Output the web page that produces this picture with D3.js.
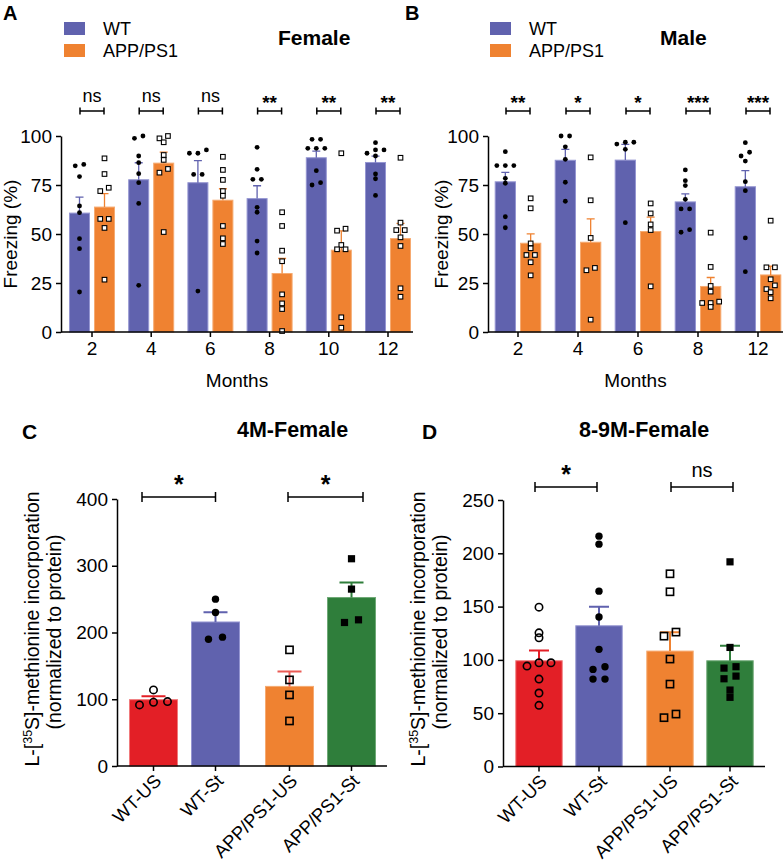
<!DOCTYPE html>
<html><head><meta charset="utf-8">
<script src="https://cdn.jsdelivr.net/npm/d3@7"></script>
<style>
body{margin:0;background:#fff}
svg{display:block}
</style>
</head><body>
<svg id="c" width="783" height="863"></svg>
<script>
// ---------------- DATA ----------------
const genotypes = ["WT", "APP/PS1"];
const monthsFemale = ["2", "4", "6", "8", "10", "12"];
const monthsMale = ["2", "4", "6", "8", "12"];
const freezeTicks = [0, 25, 50, 75, 100];

// Panel A: female freezing (%), individual animals per month
const femaleWT = [
  [84.8, 85.5, 79.3, 64.3, 60.9, 47.6, 42.5, 20.4],
  [98.8, 100, 89.8, 86.4, 80.8, 76.2, 65.6, 23.8],
  [91.2, 91.2, 92.9, 80.4, 80.4, 20.9],
  [94.2, 83.0, 77.9, 77.9, 63.6, 61.1, 46.4, 40.3],
  [98.3, 98.3, 93.7, 93.7, 93.7, 82.3, 76.2, 75.0],
  [96.6, 92.9, 92.9, 91.2, 89.8, 80.6, 78.2, 69.7]
];
const femaleAPP = [
  [88.6, 80.6, 73.6, 71.9, 57.7, 57.7, 53.1, 26.7],
  [98.8, 100, 96.8, 90.3, 87.8, 83.2, 81.3, 51.0],
  [89.4, 82.7, 77.6, 71.9, 69.5, 54.1, 47.8, 44.9],
  [61.1, 54.1, 41.5, 36.1, 19.2, 14.6, 11.7, 0.5],
  [91.2, 52.7, 51.7, 44.4, 42.2, 42.2, 7.5, 2.2],
  [88.9, 55.8, 52.0, 52.0, 48.3, 43.9, 22.3, 18.0]
];
const femaleSig = ["ns", "ns", "ns", "**", "**", "**"];

// Panel B: male freezing (%)
const maleWT = [
  [92.0, 84.9, 84.9, 84.9, 78.4, 75.9, 58.8, 53.2],
  [100, 100, 94.5, 88.1, 76.4, 66.7],
  [96.8, 96.8, 95.9, 93.2, 55.8],
  [82.7, 77.2, 74.7, 67.7, 62.8, 62.8, 52.2, 50.9],
  [96.6, 91.7, 89.8, 87.2, 76.7, 72.1, 48.0, 30.8]
];
const maleAPP = [
  [68.2, 63.1, 45.2, 42.7, 39.3, 39.3, 35.6, 28.9],
  [89.1, 67.2, 48.0, 32.7, 31.5, 6.3],
  [65.6, 60.5, 54.9, 52.0, 23.3],
  [50.7, 33.2, 23.5, 20.6, 15.5, 14.8, 14.8, 12.8],
  [56.8, 33.0, 33.0, 26.9, 23.8, 21.9, 20.3, 17.2]
];
const maleSig = ["**", "*", "*", "***", "***"];

// Panels C, D: L-[35S]-methionine incorporation (normalized to protein)
const groupsCD = ["WT-US", "WT-St", "APP/PS1-US", "APP/PS1-St"];
const incorp4M = [
  [114, 91.5, 96.5, 95.5],
  [250, 230, 190, 193],
  [174, 129, 106.5, 67.5],
  [310.5, 265, 215, 219]
];
const ticks4M = [0, 100, 200, 300, 400];
const sig4M = ["*", "*"];

const incorp89M = [
  [149.5, 125.4, 120.8, 97.3, 97.3, 94.2, 82.0, 68.9, 57.4],
  [216.1, 208.6, 164.5, 140.2, 109.9, 93.6, 91.1, 82.0, 82.0],
  [180.8, 163.9, 126.1, 122.3, 100.8, 77.3, 49.2, 45.8],
  [192.0, 111.7, 93.6, 92.3, 84.8, 82.3, 71.7, 64.9]
];
const ticks89M = [0, 50, 100, 150, 200, 250];
const sig89M = ["*", "ns"];

// ---------------- STYLE ----------------
const FONT = '"Liberation Sans", Arial, Helvetica, sans-serif';
const C_PURPLE = "#6062ae", C_PURPLE_EDGE = "#9596d2";
const C_ORANGE = "#ef8231", C_ORANGE_EDGE = "#f6aa70";
const C_RED = "#e31f26", C_RED_EDGE = "#f07a7c";
const C_GREEN = "#2f7e3b", C_GREEN_EDGE = "#6ea976";

const svg = d3.select("#c").attr("font-family", FONT);
svg.append("rect").attr("width", 783).attr("height", 863).attr("fill", "#fff");

// simple GraphPad-like scatter arrangement: points at (almost) the same height are spread sideways
function swarm(vals, y, thr, sp) {
  const s = vals.map(v => ({v, py: y(v)})).sort((a, b) => a.py - b.py);
  const rows = []; let cur = null;
  s.forEach(p => {
    if (cur && p.py - cur[0].py < thr) cur.push(p);
    else { cur = [p]; rows.push(cur); }
  });
  const out = [];
  rows.forEach(r => {
    r.sort((a, b) => a.v - b.v);
    const n = r.length;
    r.forEach((p, i) => out.push({v: p.v, dx: (i - (n - 1) / 2) * sp}));
  });
  return out;
}
const sem = v => d3.deviation(v) / Math.sqrt(v.length);

function styleAxis(a, fs) {
  a.attr("font-family", FONT).attr("font-size", fs);
  a.selectAll("path,line").attr("stroke", "#000").attr("stroke-width", 1.5);
  a.selectAll("text").attr("fill", "#000");
}

function marker(g, type, cx, cy, size) {
  if (type === "dot") g.append("circle").attr("cx", cx).attr("cy", cy).attr("r", size).attr("fill", "#000");
  else if (type === "ring") g.append("circle").attr("cx", cx).attr("cy", cy).attr("r", size).attr("fill", "none").attr("stroke", "#000").attr("stroke-width", 1.6);
  else if (type === "box") g.append("rect").attr("x", cx - size).attr("y", cy - size).attr("width", 2 * size).attr("height", 2 * size).attr("fill", "#000");
  else if (type === "openbox") g.append("rect").attr("x", cx - size).attr("y", cy - size).attr("width", 2 * size).attr("height", 2 * size).attr("fill", "none").attr("stroke", "#000").attr("stroke-width", 1.6);
  else if (type === "whitebox") g.append("rect").attr("x", cx - size).attr("y", cy - size).attr("width", 2 * size).attr("height", 2 * size).attr("fill", "#fff").attr("stroke", "#000").attr("stroke-width", 1.1);
}

function bracket(g, x1, x2, y, cap) {
  g.append("path").attr("d", `M${x1},${y}H${x2}M${x1},${y - cap}V${y + cap}M${x2},${y - cap}V${y + cap}`)
    .attr("stroke", "#000").attr("stroke-width", 1.5).attr("fill", "none");
}

// ---------------- Panels A / B ----------------
function freezingPanel(o) {
  const g = svg.append("g");
  const y = d3.scaleLinear().domain([0, 100]).range([332, 136]);
  const x = d3.scaleBand().domain(o.months).range(o.range).paddingInner(0.223).paddingOuter(0.1115);
  const sub = d3.scaleBand().domain(genotypes).range([0, x.bandwidth()]).paddingInner(0.16);
  const series = [o.wt, o.app];
  const fills = [C_PURPLE, C_ORANGE], edges = [C_PURPLE_EDGE, C_ORANGE_EDGE];
  const bars = g.append("g"), errs = g.append("g"), pts = g.append("g");
  genotypes.forEach((gt, si) => {
    o.months.forEach((m, mi) => {
      const vals = series[si][mi];
      const mean = d3.mean(vals), e = sem(vals);
      const bx = x(m) + sub(gt), bw = sub.bandwidth(), cx = bx + bw / 2;
      bars.append("rect").attr("x", bx + 0.5).attr("y", y(mean)).attr("width", bw - 1).attr("height", y(0) - y(mean))
        .attr("fill", fills[si]).attr("stroke", edges[si]).attr("stroke-width", 1);
      errs.append("path").attr("d", `M${cx},${y(mean)}V${y(mean + e)}M${cx - 4},${y(mean + e)}H${cx + 4}`)
        .attr("stroke", fills[si]).attr("stroke-width", 1.3).attr("fill", "none");
      swarm(vals, y, 4, 8.5).forEach(p => marker(pts, si === 0 ? "dot" : "whitebox", cx + p.dx, y(p.v), si === 0 ? 2.4 : 2.3));
    });
  });
  const ya = g.append("g").attr("transform", `translate(${o.axisX},0)`)
    .call(d3.axisLeft(y).tickValues(freezeTicks).tickSize(5).tickSizeOuter(0).tickPadding(4));
  styleAxis(ya, 19);
  const xa = g.append("g").attr("transform", "translate(0,332)")
    .call(d3.axisBottom(x).tickSize(5).tickSizeOuter(0).tickPadding(5));
  xa.select(".domain").attr("d", `M${o.axisX},0H${o.axisEnd}`);
  styleAxis(xa, 19);
  g.append("text").attr("x", (o.axisX + o.axisEnd) / 2).attr("y", 387).attr("text-anchor", "middle").attr("font-size", 19).text("Months");
  g.append("text").attr("transform", `translate(${o.ylabX},234) rotate(-90)`).attr("text-anchor", "middle").attr("font-size", 19).text("Freezing (%)");
  // significance
  o.months.forEach((m, i) => {
    const c = x(m) + x.bandwidth() / 2;
    bracket(g, c - 12, c + 12, 111, 3.5);
    const s = o.sig[i];
    g.append("text").attr("x", c).attr("y", s === "ns" ? 102 : 109).attr("text-anchor", "middle")
      .attr("font-size", s === "ns" ? 18 : 19).attr("font-weight", s === "ns" ? "normal" : "bold").text(s);
  });
  // legend
  genotypes.forEach((gt, i) => {
    g.append("rect").attr("x", o.legX).attr("y", 22 + i * 22).attr("width", 21).attr("height", 13).attr("fill", fills[i]);
    g.append("text").attr("x", o.legX + 39).attr("y", 35 + i * 22).attr("font-size", 18).text(gt);
  });
  g.append("text").attr("x", o.titleX).attr("y", 45).attr("font-size", 21).attr("font-weight", "bold").text(o.title);
  g.append("text").attr("x", o.letterX).attr("y", 20).attr("font-size", 20).attr("font-weight", "bold").text(o.letter);
}

freezingPanel({months: monthsFemale, wt: femaleWT, app: femaleAPP, sig: femaleSig,
  range: [62.4, 417.6], axisX: 61, axisEnd: 413, ylabX: 17, legX: 64, titleX: 278, title: "Female", letterX: 3, letter: "A"});
freezingPanel({months: monthsMale, wt: maleWT, app: maleAPP, sig: maleSig,
  range: [488, 788], axisX: 488, axisEnd: 783, ylabX: 448, legX: 490, titleX: 660, title: "Male", letterX: 405, letter: "B"});

// ---------------- Panels C / D ----------------
function incorpPanel(o) {
  const g = svg.append("g");
  const y = d3.scaleLinear().domain([0, o.max]).range([o.y0, o.yTop]);
  const xb = d3.scaleBand().domain(groupsCD).range(o.range).paddingInner(0.21).paddingOuter(0.105);
  const bx = c => xb(c) + (groupsCD.indexOf(c) >= 2 ? o.gap : 0);
  const cxs = c => bx(c) + xb.bandwidth() / 2;
  const fills = [C_RED, C_PURPLE, C_ORANGE, C_GREEN];
  const edges = [C_RED_EDGE, C_PURPLE_EDGE, C_ORANGE_EDGE, C_GREEN_EDGE];
  const markers = ["ring", "dot", "openbox", "box"];
  const bars = g.append("g"), errs = g.append("g"), pts = g.append("g");
  groupsCD.forEach((c, i) => {
    const vals = o.data[i], mean = d3.mean(vals), e = sem(vals), cx = cxs(c);
    bars.append("rect").attr("x", bx(c) + 0.5).attr("y", y(mean)).attr("width", xb.bandwidth() - 1).attr("height", y(0) - y(mean))
      .attr("fill", fills[i]).attr("stroke", edges[i]).attr("stroke-width", 1);
    errs.append("path").attr("d", `M${cx},${y(mean)}V${y(mean + e)}M${cx - o.cap},${y(mean + e)}H${cx + o.cap}`)
      .attr("stroke", o.errColors[i]).attr("stroke-width", 2).attr("fill", "none");
    swarm(vals, y, o.thr, o.sp).forEach(p => marker(pts, markers[i], cx + p.dx, y(p.v), markers[i] === "ring" || markers[i] === "dot" ? 3.7 : 3.6));
  });
  const ya = g.append("g").attr("transform", `translate(${o.axisX},0)`)
    .call(d3.axisLeft(y).tickValues(o.ticks).tickSize(5).tickSizeOuter(0).tickPadding(4));
  styleAxis(ya, 19);
  const xa = g.append("g").attr("transform", `translate(0,${o.y0})`);
  xa.append("path").attr("d", `M${o.axisX},0H${o.axisEnd}`);
  groupsCD.forEach(c => {
    xa.append("line").attr("x1", cxs(c)).attr("x2", cxs(c)).attr("y1", 0).attr("y2", 5);
    xa.append("text").attr("transform", `translate(${cxs(c) + 9},${16}) rotate(-45)`).attr("text-anchor", "end").text(c);
  });
  styleAxis(xa, 18.5);
  // y label (two lines)
  const yl = g.append("text").attr("transform", `translate(${o.axisX - 78},629) rotate(-90)`).attr("text-anchor", "middle").attr("font-size", 19.5);
  yl.append("tspan").text("L-[");
  yl.append("tspan").attr("font-size", 12.5).attr("dy", -7).text("35");
  yl.append("tspan").attr("dy", 7).text("S]-methionine incorporation");
  g.append("text").attr("transform", `translate(${o.axisX - 56},632) rotate(-90)`).attr("text-anchor", "middle").attr("font-size", 19.5).text("(normalized to protein)");
  // significance
  const pairs = [[0, 1], [2, 3]];
  pairs.forEach((p, k) => {
    const x1 = cxs(groupsCD[p[0]]) + o.brk[k][0], x2 = cxs(groupsCD[p[1]]) + o.brk[k][1];
    bracket(g, x1, x2, o.brY, 5);
    const s = o.sig[k];
    g.append("text").attr("x", (x1 + x2) / 2).attr("y", s === "ns" ? o.brY - 10 : o.brY - 4).attr("text-anchor", "middle")
      .attr("font-size", s === "ns" ? 20 : 25).attr("font-weight", s === "ns" ? "normal" : "bold").text(s);
  });
  g.append("text").attr("x", o.titleX).attr("y", 437).attr("font-size", 21.5).attr("font-weight", "bold").text(o.title);
  g.append("text").attr("x", o.letterX).attr("y", 439).attr("font-size", 21).attr("font-weight", "bold").text(o.letter);
}

incorpPanel({data: incorp4M, max: 400, ticks: ticks4M, y0: 766, yTop: 499, range: [122.5, 370.5], gap: 12,
  axisX: 117, axisEnd: 387, cap: 12, thr: 7, sp: 14, sig: sig4M, brY: 497, brk: [[-11.5, 0], [-1.5, 11.5]],
  errColors: [C_RED, C_PURPLE, "#ea5b55", C_GREEN], titleX: 237, title: "4M-Female", letterX: 22, letter: "C"});
incorpPanel({data: incorp89M, max: 250, ticks: ticks89M, y0: 766.5, yTop: 500, range: [509, 749], gap: 11,
  axisX: 503, axisEnd: 765, cap: 10, thr: 4.5, sp: 12, sig: sig89M, brY: 487, brk: [[-4, -2], [1, 3]],
  errColors: [C_RED, C_PURPLE, C_ORANGE, C_GREEN], titleX: 579, title: "8-9M-Female", letterX: 422, letter: "D"});
</script>
</body></html>
